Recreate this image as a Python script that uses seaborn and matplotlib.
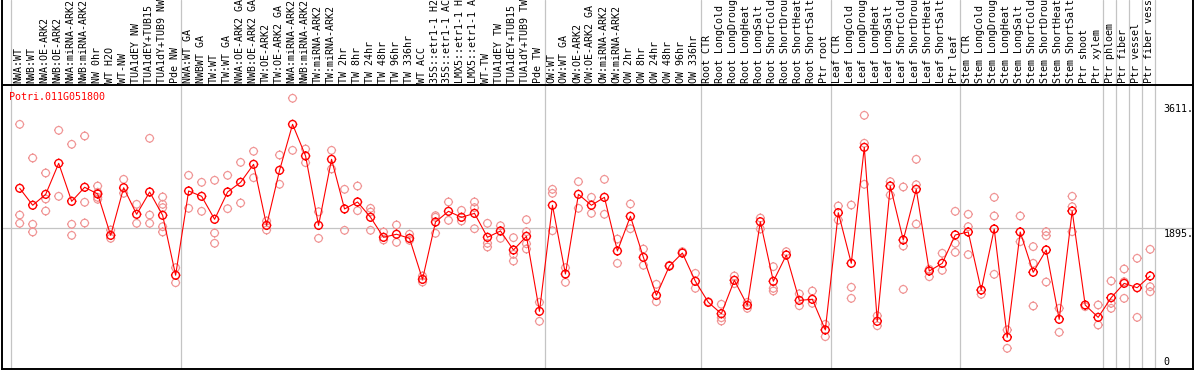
import numpy as np
import pandas as pd
import matplotlib
matplotlib.use("Agg")
import matplotlib.pyplot as plt
from matplotlib.path import Path
import seaborn as sns

gene_id = "Potri.011G051800"

categories = [
    "NWA:WT", "NWB:WT", "NWA:OE-ARK2", "NWB:OE-ARK2", "NWA:miRNA-ARK2", "NWB:miRNA-ARK2",
    "NW 0hr", "WT H2O", "WT-NW", "TUA1dEY NW", "TUA1dEY+TUB15 NW", "TUA1dY+TUB9 NW", "Pde NW",
    "NWA:WT GA", "NWBWT GA", "TW:WT", "TW:WT GA", "NWA:OE-ARK2 GA", "NWB:OE-ARK2 GA",
    "TW:OE-ARK2", "TW:OE-ARK2 GA", "NWA:miRNA-ARK2", "NWB:miRNA-ARK2", "TW:miRNA-ARK2",
    "TW:miRNA-ARK2", "TW 2hr", "TW 8hr", "TW 24hr", "TW 48hr", "TW 96hr", "TW 336hr",
    "WT ACC", "35S::etr1-1 H2O", "35S::etr1-1 ACC", "LMX5::etr1-1 H2O", "LMX5::etr1-1 ACC",
    "WT-TW", "TUA1dEY TW", "TUA1dEY+TUB15 TW", "TUA1dY+TUB9 TW", "Pde TW",
    "OW:WT", "OW:WT GA", "OW:OE-ARK2", "OW:OE-ARK2 GA", "OW:miRNA-ARK2", "OW:miRNA-ARK2",
    "OW 2hr", "OW 8hr", "OW 24hr", "OW 48hr", "OW 96hr", "OW 336hr",
    "Root CTR", "Root LongCold", "Root LongDrought", "Root LongHeat", "Root LongSalt",
    "Root ShortCold", "Root ShortDrought", "Root ShortHeat", "Root ShortSalt", "Ptr root",
    "Leaf CTR", "Leaf LongCold", "Leaf LongDrought", "Leaf LongHeat", "Leaf LongSalt",
    "Leaf ShortCold", "Leaf ShortDrought", "Leaf ShortHeat", "Leaf ShortSalt", "Ptr leaf",
    "Stem CTR", "Stem LongCold", "Stem LongDrought", "Stem LongHeat", "Stem LongSalt",
    "Stem ShortCold", "Stem ShortDrought", "Stem ShortHeat", "Stem ShortSalt", "Ptr shoot",
    "Ptr xylem", "Ptr phloem", "Ptr fiber", "Ptr vessel", "Ptr fiber vessel",
]

mean_values = [
    2444, 2211, 2361, 2787, 2265, 2458, 2366, 1798, 2452, 2087,
    2393, 2073, 1250, 2407, 2334, 2018, 2393, 2526, 2773, 1935,
    2691, 3322, 2888, 1935, 2842, 2160, 2256, 2046, 1771, 1813,
    1757, 1194, 1981, 2128, 2046, 2100, 1771, 1858, 1597, 1785,
    755, 2211, 1267, 2361, 2211, 2320, 1583, 2059, 1496, 974,
    1377, 1555, 1167, 878, 722, 1181, 837, 1985, 1167, 1528,
    905, 920, 499, 2109, 1414, 3006, 618, 2475, 1734, 2430,
    1308, 1414, 1803, 1844, 1047, 1885, 398, 1844, 1291, 1597,
    645, 2132, 842, 672, 942, 1139, 1079, 1240,
]

replicates = [
    [3322, 2077, 1963], [2860, 1950, 1844], [2654, 2297, 2132], [3240, 2334],
    [3048, 1950, 1798], [3162, 2252, 1967], [2475, 2389, 2320, 2293], [1871, 1757],
    [2567, 2375], [2224, 1963], [3130, 2077, 1963], [2325, 2224, 2178, 1917, 1844],
    [1354, 1148], [2622, 2169], [2526, 2128], [2554, 1830, 1689],
    [2622, 2164], [2800, 2242], [2952, 2589], [1995, 1871],
    [2901, 2499], [3680, 2965], [2983, 2796], [2122, 1757],
    [2965, 2709], [2430, 1867], [2475, 2137], [2169, 2118, 1867],
    [1844, 1734], [1940, 1702], [1813, 1730], [1240, 1157],
    [2068, 2046, 1826], [2256, 2004], [2141, 1995], [2256, 2178, 1889],
    [1963, 1689, 1638], [1930, 1757], [1766, 1537, 1445], [2013, 1848, 1683, 1610],
    [878, 618], [2430, 2375, 1861], [1354, 1153], [2535, 2169],
    [2320, 2100], [2567, 2087], [1747, 1414], [2229, 1889],
    [1610, 1387], [1126, 887], [1387], [1574],
    [1276, 1071], [887], [852, 667, 622], [1240, 1135],
    [878, 796], [2036, 1885], [1368, 1071, 1034], [1574],
    [995, 832], [1034, 865], [576, 407], [2201, 2008],
    [2214, 1085, 933], [3446, 3062, 2499], [694, 557], [2535, 2351],
    [2462, 1651, 1057], [2842, 2493, 1953], [1332, 1230], [1552, 1318],
    [2128, 1689, 1565], [2087, 1917, 1533], [989], [2320, 2064, 1263],
    [499, 247], [2064, 1711], [1643, 1414, 828], [1848, 1793, 1157],
    [796, 467], [2334, 2191, 1848], [819], [842, 567],
    [1171, 865, 796], [1336, 1161, 933], [1483, 672], [1606, 1093, 1024],
]

y_tick_values = [3611, 1895, 0]
y_tick_labels = ["3611.", "1895.", "0"]
grid_value = 1895

# group separators (vertical grey lines), in category-index units
separators = [-0.69, 12.4, 40.4, 52.4, 62.4, 72.4, 83.4, 84.4, 85.4, 86.4, 87.4]

# ---------------------------------------------------------------- layout
W, H = 1194, 370
Y_MIN, Y_DIV, Y_MAX = -37, 3862, 5029
X_MIN, X_MAX = -1.363, 90.26
MONO = "DejaVu Sans Mono"
FS = 7.2
RED = "#ff0000"
PINK = "#f09494"
GRID = "#c4c4c4"

sns.set_style("white")
plt.rcParams["font.family"] = [MONO, "DejaVu Sans"]

fig = plt.figure(figsize=(W / 100, H / 100), dpi=100)
ax = fig.add_axes([2 / W, 1 / H, 1190.5 / W, 369 / H])
ax.set_xlim(X_MIN, X_MAX)
ax.set_ylim(Y_MIN, Y_MAX)
ax.set_xticks([])
ax.set_yticks([])
for side in ["left", "right", "bottom"]:
    ax.spines[side].set_color("black")
    ax.spines[side].set_linewidth(1.4)
ax.spines["top"].set_visible(False)

# grid lines
for s in separators:
    ax.axvline(s, color=GRID, lw=0.9, zorder=0.5)
ax.axhline(grid_value, color=GRID, lw=0.9, zorder=0.5)
ax.axhline(Y_DIV, color="black", lw=1.4, zorder=5)

# custom marker: circle with four very short ticks
circle = Path.unit_circle()
ticks = [Path([(dx * 1.0, dy * 1.0), (dx * 1.22, dy * 1.22)], [Path.MOVETO, Path.LINETO])
         for dx, dy in [(0, 1), (1, 0), (0, -1), (-1, 0)]]
marker = Path.make_compound_path(circle, *ticks)

idx = np.arange(len(categories))
rep_df = pd.DataFrame(
    [(i, v) for i, reps in enumerate(replicates) for v in reps],
    columns=["idx", "value"],
)
mean_df = pd.DataFrame({"idx": idx, "value": mean_values})

sns.scatterplot(data=rep_df, x="idx", y="value", marker=marker, s=44,
                facecolors="none", edgecolor=PINK, linewidth=0.85,
                ax=ax, zorder=2, legend=False)
sns.lineplot(data=mean_df, x="idx", y="value", color=RED, linewidth=0.8,
             ax=ax, zorder=3, legend=False)
sns.scatterplot(data=mean_df, x="idx", y="value", marker=marker, s=46,
                facecolors="none", edgecolor=RED, linewidth=1.0,
                ax=ax, zorder=4, legend=False)
ax.set_xlabel("")
ax.set_ylabel("")

# category labels (rotated, above divider)
for i, lab in enumerate(categories):
    ax.annotate(lab, xy=(i, Y_DIV), xytext=(-1, 2), textcoords="offset pixels",
                rotation=90, ha="center", va="bottom", fontsize=FS,
                family=MONO, color="black", annotation_clip=False)

# value labels at right
n = len(categories)
for val, lab in zip(y_tick_values, y_tick_labels):
    if val == 0:
        ax.annotate(lab, xy=(n + 0.05, val), xytext=(0, 4.6), textcoords="offset pixels",
                    ha="left", va="center", fontsize=FS, family=MONO, color="black")
    else:
        ax.annotate(lab, xy=(n + 0.05, val), xytext=(0, -0.5), textcoords="offset pixels",
                    ha="left", va="top", fontsize=FS, family=MONO, color="black")

# gene id, just below the divider at the top-left of the plot
ax.annotate(gene_id, xy=(X_MIN, Y_DIV), xytext=(7.5, -12.3),
            textcoords="offset pixels", ha="left", va="center", fontsize=FS,
            family=MONO, color=RED)

fig.savefig("out.png", dpi=100)
